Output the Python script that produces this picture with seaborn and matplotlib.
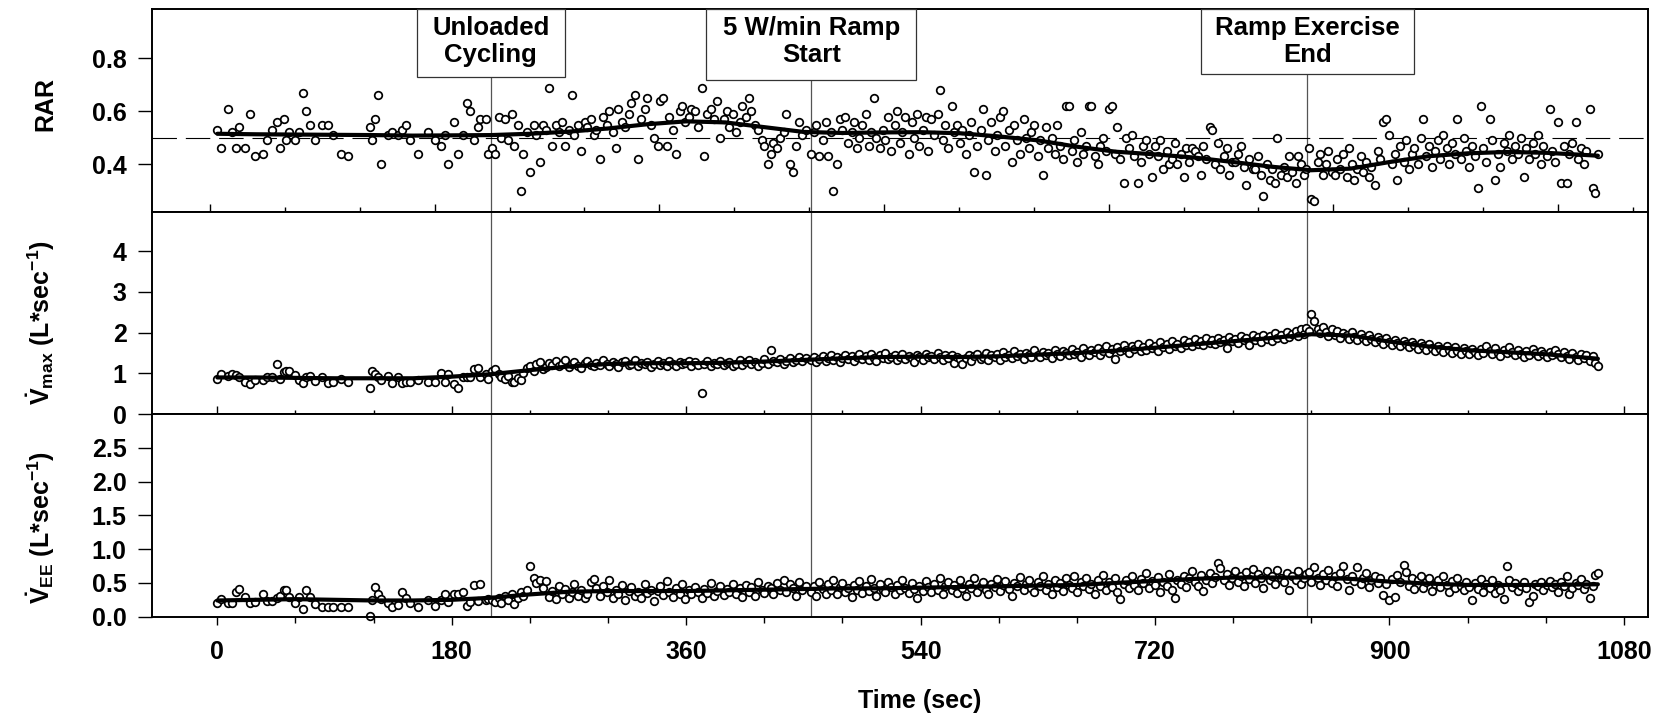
import numpy as np
import matplotlib
matplotlib.use("Agg")
import matplotlib.pyplot as plt
import matplotlib.transforms as mtransforms
from matplotlib.patches import Rectangle
from matplotlib.ticker import FixedLocator, FormatStrFormatter, MultipleLocator, NullFormatter
import seaborn as sns

# ---------------- data ----------------
# breath times (s), split by protocol phase
TIME_A = [0, 3, 8, 11, 14, 17, 21, 25, 29, 35, 38, 42, 46, 48, 51, 53, 55, 60, 63, 66,
          68, 71, 75, 80, 85, 89, 95, 100, 117, 119, 121, 123, 126, 131, 134, 139, 142, 145, 148, 154,
          162, 167, 172, 175, 177, 182, 185, 189, 192, 194, 197, 200, 202, 206, 208]
TIME_B = [211, 213, 216, 218, 221, 223, 226, 228, 231, 233, 235, 238, 240, 243, 245, 248, 250, 252, 255, 257,
          260, 262, 265, 267, 270, 272, 274, 277, 279, 282, 284, 287, 289, 291, 294, 296, 299, 301, 304, 306,
          308, 311, 313, 316, 318, 321, 323, 325, 328, 330, 333, 335, 338, 340, 342, 345, 347, 350, 352, 355,
          357, 359, 362, 364, 367, 369, 372, 374, 376, 379, 381, 384, 386, 389, 391, 393, 396, 398, 401, 403,
          406, 408, 410, 413, 415, 418, 420, 423, 425, 427, 430, 432, 435, 437, 440, 442, 444, 447, 449, 452]
TIME_C = [456, 458, 460, 462, 465, 467, 469, 471, 473, 476, 478, 480, 482, 484, 487, 489, 491, 493, 495, 498,
          500, 502, 504, 506, 509, 511, 513, 515, 517, 520, 522, 524, 526, 528, 531, 533, 535, 537, 539, 542,
          544, 546, 548, 550, 553, 555, 557, 559, 561, 564, 566, 568, 570, 572, 575, 577, 579, 581, 583, 586,
          588, 590, 592, 594, 597, 599, 601, 603, 605, 608, 610, 612, 614, 616, 619, 621, 623, 625, 627, 630,
          632, 634, 636, 638, 641, 643, 645, 647, 649, 652, 654, 656, 658, 660, 663, 665, 667, 669, 671, 674,
          676, 678, 680, 682, 685, 687, 689, 691, 693, 696, 698, 700, 702, 704, 707, 709, 711, 713, 715, 718,
          720, 722, 724, 726, 729, 731, 733, 735, 737, 740, 742, 744, 746, 748, 751, 753, 755, 757, 759, 762,
          764, 766, 768, 770, 773, 775, 777, 779, 781, 784, 786, 788, 790, 792, 795, 797, 799, 801, 803, 806,
          808, 810, 812, 814, 817, 819, 821, 823, 825, 828, 830, 832, 834, 836]
TIME_D = [838, 840, 842, 845, 847, 849, 851, 853, 856, 858, 860, 862, 864, 867, 869, 871, 873, 875, 878, 880,
          882, 884, 886, 889, 891, 893, 895, 897, 900, 902, 904, 906, 908, 911, 913, 915, 917, 919, 922, 924,
          926, 928, 930, 933, 935, 937, 939, 941, 944, 946, 948, 950, 952, 955, 957, 959, 961, 963, 966, 968,
          970, 972, 974, 977, 979, 981, 983, 985, 988, 990, 992, 994, 996, 999, 1001, 1003, 1005, 1007, 1010, 1012,
          1014, 1016, 1018, 1021, 1023, 1025, 1027, 1029, 1032, 1034, 1036, 1038, 1040, 1043, 1045, 1047, 1049, 1051, 1054, 1056,
          1058, 1060]

RAR_A = [0.53, 0.46, 0.61, 0.52, 0.46, 0.54, 0.46, 0.59, 0.43, 0.44, 0.49, 0.53, 0.56, 0.46, 0.57, 0.49, 0.52, 0.49, 0.52, 0.67,
         0.60, 0.55, 0.49, 0.55, 0.55, 0.51, 0.44, 0.43, 0.54, 0.49, 0.57, 0.66, 0.40, 0.51, 0.52, 0.51, 0.53, 0.55, 0.49, 0.44,
         0.52, 0.49, 0.47, 0.51, 0.40, 0.56, 0.44, 0.51, 0.63, 0.60, 0.49, 0.54, 0.57, 0.57, 0.44]
RAR_B = [0.46, 0.44, 0.58, 0.50, 0.57, 0.49, 0.59, 0.47, 0.55, 0.30, 0.44, 0.52, 0.37, 0.55, 0.51, 0.41, 0.55, 0.53, 0.69, 0.47,
         0.55, 0.52, 0.56, 0.47, 0.53, 0.66, 0.51, 0.55, 0.45, 0.56, 0.54, 0.57, 0.51, 0.53, 0.42, 0.58, 0.55, 0.60, 0.52, 0.46,
         0.61, 0.56, 0.54, 0.59, 0.63, 0.66, 0.42, 0.57, 0.61, 0.65, 0.55, 0.50, 0.47, 0.64, 0.65, 0.47, 0.58, 0.53, 0.44, 0.60,
         0.62, 0.56, 0.58, 0.61, 0.60, 0.54, 0.69, 0.43, 0.59, 0.61, 0.57, 0.64, 0.50, 0.57, 0.60, 0.54, 0.59, 0.52, 0.56, 0.62,
         0.58, 0.65, 0.60, 0.55, 0.53, 0.49, 0.47, 0.40, 0.44, 0.48, 0.46, 0.50, 0.52, 0.59, 0.40, 0.37, 0.47, 0.56, 0.51, 0.53]
RAR_C = [0.44, 0.52, 0.55, 0.43, 0.49, 0.56, 0.43, 0.52, 0.30, 0.40, 0.57, 0.53, 0.58, 0.48, 0.52, 0.56, 0.46, 0.50, 0.55, 0.59,
         0.47, 0.52, 0.65, 0.50, 0.46, 0.53, 0.49, 0.58, 0.45, 0.55, 0.60, 0.48, 0.52, 0.58, 0.44, 0.56, 0.50, 0.59, 0.47, 0.53,
         0.58, 0.45, 0.57, 0.51, 0.59, 0.68, 0.49, 0.55, 0.46, 0.62, 0.52, 0.55, 0.48, 0.53, 0.44, 0.51, 0.56, 0.37, 0.47, 0.53,
         0.61, 0.36, 0.49, 0.56, 0.45, 0.51, 0.58, 0.60, 0.47, 0.53, 0.41, 0.55, 0.49, 0.44, 0.57, 0.50, 0.46, 0.52, 0.55, 0.43,
         0.49, 0.36, 0.54, 0.46, 0.50, 0.44, 0.55, 0.47, 0.42, 0.62, 0.62, 0.45, 0.49, 0.41, 0.52, 0.44, 0.47, 0.62, 0.62, 0.43,
         0.40, 0.47, 0.50, 0.45, 0.61, 0.62, 0.44, 0.54, 0.42, 0.33, 0.50, 0.46, 0.51, 0.43, 0.33, 0.41, 0.47, 0.49, 0.44, 0.35,
         0.47, 0.43, 0.49, 0.38, 0.45, 0.40, 0.42, 0.48, 0.40, 0.44, 0.35, 0.46, 0.41, 0.46, 0.45, 0.43, 0.36, 0.47, 0.42, 0.54,
         0.53, 0.40, 0.48, 0.38, 0.43, 0.46, 0.36, 0.41, 0.41, 0.44, 0.47, 0.39, 0.32, 0.42, 0.38, 0.38, 0.43, 0.36, 0.28, 0.40,
         0.34, 0.38, 0.33, 0.50, 0.36, 0.39, 0.35, 0.43, 0.37, 0.33, 0.43, 0.40, 0.36, 0.38]
RAR_D = [0.46, 0.27, 0.26, 0.41, 0.44, 0.36, 0.40, 0.45, 0.37, 0.36, 0.42, 0.38, 0.44, 0.35, 0.46, 0.40, 0.34, 0.38, 0.43, 0.37,
         0.41, 0.35, 0.39, 0.32, 0.45, 0.42, 0.56, 0.57, 0.51, 0.40, 0.44, 0.34, 0.47, 0.41, 0.49, 0.38, 0.44, 0.46, 0.40, 0.50,
         0.57, 0.43, 0.47, 0.39, 0.45, 0.49, 0.42, 0.51, 0.46, 0.40, 0.48, 0.44, 0.57, 0.42, 0.50, 0.45, 0.39, 0.47, 0.43, 0.31,
         0.62, 0.46, 0.41, 0.57, 0.49, 0.34, 0.44, 0.39, 0.48, 0.45, 0.51, 0.42, 0.47, 0.44, 0.50, 0.35, 0.46, 0.42, 0.48, 0.44,
         0.51, 0.40, 0.47, 0.43, 0.61, 0.45, 0.41, 0.56, 0.33, 0.47, 0.33, 0.44, 0.48, 0.56, 0.42, 0.46, 0.40, 0.45, 0.61, 0.31,
         0.29, 0.44]

VMAX_A = [0.87, 0.98, 0.93, 0.99, 0.95, 0.92, 0.80, 0.74, 0.83, 0.83, 0.90, 0.90, 1.22, 0.86, 1.04, 1.06, 1.07, 0.95, 0.84, 0.77,
          0.90, 0.93, 0.82, 0.90, 0.77, 0.80, 0.85, 0.78, 0.63, 1.06, 0.99, 0.90, 0.84, 0.93, 0.77, 0.90, 0.77, 0.80, 0.79, 0.84,
          0.79, 0.80, 1.00, 0.79, 0.99, 0.74, 0.63, 0.90, 0.90, 0.92, 1.10, 1.12, 0.92, 0.99, 0.86]
VMAX_B = [1.05, 1.10, 0.98, 0.90, 0.86, 0.94, 0.80, 0.78, 0.88, 0.84, 1.00, 1.12, 1.18, 1.05, 1.22, 1.28, 1.10, 1.15, 1.25, 1.20,
          1.30, 1.18, 1.24, 1.32, 1.15, 1.22, 1.27, 1.19, 1.13, 1.25, 1.30, 1.21, 1.17, 1.26, 1.20, 1.32, 1.24, 1.18, 1.28, 1.22,
          1.15, 1.27, 1.31, 1.20, 1.24, 1.33, 1.18, 1.26, 1.22, 1.29, 1.16, 1.24, 1.30, 1.21, 1.26, 1.19, 1.31, 1.23, 1.17, 1.28,
          1.22, 1.25, 1.30, 1.19, 1.27, 1.21, 0.53, 1.24, 1.30, 1.18, 1.26, 1.22, 1.31, 1.20, 1.25, 1.29, 1.17, 1.24, 1.33, 1.21,
          1.27, 1.32, 1.22, 1.28, 1.19, 1.26, 1.35, 1.23, 1.58, 1.30, 1.27, 1.36, 1.24, 1.31, 1.38, 1.28, 1.34, 1.41, 1.30, 1.37]
VMAX_C = [1.32, 1.40, 1.28, 1.36, 1.43, 1.30, 1.38, 1.45, 1.33, 1.41, 1.29, 1.37, 1.46, 1.35, 1.42, 1.31, 1.39, 1.48, 1.36, 1.43,
          1.34, 1.47, 1.38, 1.30, 1.44, 1.37, 1.49, 1.35, 1.41, 1.46, 1.33, 1.40, 1.48, 1.36, 1.43, 1.38, 1.29, 1.45, 1.40, 1.34,
          1.47, 1.39, 1.42, 1.36, 1.50, 1.41, 1.33, 1.44, 1.38, 1.46, 1.26, 1.40, 1.35, 1.22, 1.37, 1.45, 1.31, 1.42, 1.48, 1.36,
          1.41, 1.50, 1.34, 1.44, 1.39, 1.47, 1.33, 1.52, 1.40, 1.45, 1.38, 1.55, 1.42, 1.48, 1.36, 1.51, 1.44, 1.40, 1.57, 1.46,
          1.39, 1.53, 1.45, 1.50, 1.37, 1.58, 1.47, 1.42, 1.55, 1.49, 1.44, 1.60, 1.48, 1.52, 1.41, 1.63, 1.50, 1.46, 1.58, 1.53,
          1.62, 1.45, 1.56, 1.67, 1.51, 1.59, 1.36, 1.64, 1.55, 1.70, 1.58, 1.49, 1.66, 1.60, 1.72, 1.54, 1.65, 1.58, 1.75, 1.62,
          1.68, 1.56, 1.77, 1.64, 1.71, 1.60, 1.79, 1.67, 1.73, 1.63, 1.82, 1.70, 1.76, 1.66, 1.84, 1.72, 1.79, 1.69, 1.86, 1.75,
          1.81, 1.71, 1.88, 1.77, 1.83, 1.62, 1.90, 1.79, 1.85, 1.74, 1.92, 1.81, 1.87, 1.70, 1.93, 1.83, 1.89, 1.78, 1.95, 1.85,
          1.91, 1.80, 1.98, 1.87, 1.93, 1.84, 2.02, 1.90, 1.96, 2.05, 1.92, 2.10, 1.97, 2.12]
VMAX_D = [2.05, 2.45, 2.28, 2.10, 1.98, 2.15, 2.02, 1.92, 2.08, 1.95, 2.04, 1.88, 2.00, 1.93, 1.85, 2.01, 1.90, 1.82, 1.96, 1.87,
          1.80, 1.93, 1.84, 1.76, 1.89, 1.81, 1.72, 1.86, 1.78, 1.70, 1.83, 1.75, 1.67, 1.80, 1.72, 1.64, 1.77, 1.69, 1.60, 1.74,
          1.66, 1.58, 1.71, 1.63, 1.55, 1.68, 1.60, 1.52, 1.66, 1.58, 1.50, 1.64, 1.56, 1.48, 1.62, 1.54, 1.47, 1.60, 1.52, 1.45,
          1.59, 1.51, 1.68, 1.55, 1.47, 1.62, 1.50, 1.43, 1.57, 1.49, 1.64, 1.52, 1.44, 1.58, 1.48, 1.40, 1.55, 1.46, 1.61, 1.50,
          1.42, 1.56, 1.47, 1.39, 1.53, 1.44, 1.58, 1.48, 1.40, 1.52, 1.43, 1.36, 1.50, 1.41, 1.33, 1.47, 1.38, 1.44, 1.30, 1.42,
          1.25, 1.18]

VEE_A = [0.21, 0.26, 0.21, 0.21, 0.37, 0.41, 0.29, 0.20, 0.22, 0.33, 0.23, 0.23, 0.28, 0.31, 0.39, 0.39, 0.29, 0.21, 0.29, 0.11,
         0.39, 0.29, 0.19, 0.14, 0.14, 0.15, 0.14, 0.15, 0.01, 0.24, 0.44, 0.33, 0.26, 0.21, 0.15, 0.17, 0.37, 0.27, 0.20, 0.15,
         0.24, 0.16, 0.25, 0.33, 0.22, 0.33, 0.34, 0.36, 0.16, 0.22, 0.47, 0.23, 0.48, 0.24, 0.26]
VEE_B = [0.24, 0.22, 0.27, 0.21, 0.30, 0.25, 0.33, 0.19, 0.28, 0.36, 0.30, 0.40, 0.75, 0.57, 0.50, 0.55, 0.42, 0.53, 0.29, 0.38,
         0.26, 0.45, 0.33, 0.41, 0.28, 0.36, 0.48, 0.31, 0.39, 0.27, 0.34, 0.52, 0.56, 0.42, 0.30, 0.45, 0.37, 0.55, 0.28, 0.40,
         0.33, 0.47, 0.25, 0.38, 0.44, 0.31, 0.36, 0.27, 0.49, 0.35, 0.40, 0.23, 0.38, 0.46, 0.32, 0.53, 0.36, 0.29, 0.42, 0.34,
         0.48, 0.26, 0.39, 0.33, 0.44, 0.37, 0.28, 0.41, 0.35, 0.50, 0.30, 0.38, 0.45, 0.32, 0.41, 0.36, 0.49, 0.34, 0.42, 0.29,
         0.47, 0.37, 0.44, 0.31, 0.52, 0.39, 0.35, 0.46, 0.42, 0.33, 0.50, 0.40, 0.55, 0.36, 0.48, 0.43, 0.31, 0.52, 0.39, 0.45]
VEE_C = [0.37, 0.45, 0.30, 0.52, 0.41, 0.34, 0.48, 0.39, 0.55, 0.33, 0.44, 0.50, 0.36, 0.42, 0.29, 0.47, 0.40, 0.53, 0.35, 0.45,
         0.38, 0.56, 0.43, 0.31, 0.49, 0.40, 0.36, 0.52, 0.44, 0.33, 0.47, 0.39, 0.55, 0.42, 0.35, 0.50, 0.41, 0.28, 0.46, 0.38,
         0.53, 0.44, 0.36, 0.49, 0.40, 0.57, 0.33, 0.45, 0.51, 0.39, 0.47, 0.35, 0.54, 0.42, 0.30, 0.48, 0.43, 0.58, 0.37, 0.46,
         0.52, 0.40, 0.34, 0.49, 0.44, 0.56, 0.38, 0.47, 0.53, 0.41, 0.31, 0.50, 0.45, 0.59, 0.39, 0.48, 0.54, 0.42, 0.36, 0.51,
         0.46, 0.60, 0.40, 0.49, 0.33, 0.55, 0.44, 0.50, 0.38, 0.57, 0.47, 0.42, 0.61, 0.36, 0.52, 0.45, 0.58, 0.41, 0.49, 0.34,
         0.55, 0.46, 0.62, 0.40, 0.51, 0.44, 0.57, 0.37, 0.26, 0.48, 0.54, 0.43, 0.60, 0.47, 0.39, 0.56, 0.50, 0.64, 0.42, 0.53,
         0.47, 0.59, 0.36, 0.51, 0.45, 0.63, 0.40, 0.28, 0.55, 0.49, 0.61, 0.44, 0.57, 0.67, 0.52, 0.46, 0.62, 0.38, 0.55, 0.64,
         0.50, 0.59, 0.79, 0.72, 0.54, 0.63, 0.47, 0.58, 0.68, 0.52, 0.61, 0.45, 0.66, 0.56, 0.70, 0.50, 0.63, 0.57, 0.42, 0.67,
         0.55, 0.61, 0.48, 0.69, 0.58, 0.52, 0.65, 0.40, 0.60, 0.54, 0.67, 0.49, 0.58, 0.63]
VEE_D = [0.66, 0.52, 0.74, 0.58, 0.47, 0.63, 0.55, 0.69, 0.50, 0.60, 0.45, 0.65, 0.75, 0.56, 0.39, 0.61, 0.53, 0.73, 0.48, 0.58,
         0.64, 0.44, 0.55, 0.60, 0.50, 0.57, 0.32, 0.48, 0.25, 0.56, 0.29, 0.62, 0.52, 0.77, 0.66, 0.46, 0.57, 0.41, 0.54, 0.60,
         0.43, 0.51, 0.58, 0.38, 0.49, 0.55, 0.44, 0.61, 0.47, 0.36, 0.53, 0.42, 0.57, 0.46, 0.39, 0.52, 0.44, 0.25, 0.50, 0.41,
         0.56, 0.37, 0.48, 0.43, 0.54, 0.35, 0.47, 0.40, 0.26, 0.75, 0.55, 0.44, 0.50, 0.38, 0.46, 0.52, 0.42, 0.22, 0.30, 0.49,
         0.45, 0.51, 0.40, 0.47, 0.53, 0.44, 0.49, 0.36, 0.52, 0.46, 0.60, 0.34, 0.43, 0.50, 0.47, 0.56, 0.41, 0.48, 0.28, 0.45,
         0.62, 0.64]

# smoothed trend curves
TREND_T = [0, 30, 60, 90, 120, 150, 180, 210, 240, 270, 300, 330, 360, 390, 420, 450, 480, 510,
           540, 570, 600, 630, 660, 690, 720, 750, 780, 810, 840, 870, 900, 930, 960, 990, 1020, 1060]
TREND_RAR = [0.515, 0.513, 0.512, 0.511, 0.510, 0.508, 0.509, 0.510, 0.515, 0.523, 0.535, 0.551, 0.562, 0.558, 0.540, 0.522, 0.518, 0.520,
             0.521, 0.517, 0.505, 0.490, 0.466, 0.447, 0.437, 0.425, 0.408, 0.390, 0.377, 0.383, 0.408, 0.430, 0.441, 0.446, 0.443, 0.432]
TREND_VMAX = [0.90, 0.90, 0.89, 0.88, 0.88, 0.88, 0.92, 0.98, 1.08, 1.17, 1.23, 1.25, 1.25, 1.26, 1.29, 1.33, 1.37, 1.40,
              1.41, 1.40, 1.42, 1.46, 1.50, 1.56, 1.63, 1.71, 1.79, 1.87, 1.96, 1.93, 1.78, 1.66, 1.57, 1.52, 1.47, 1.36]
TREND_VEE = [0.24, 0.25, 0.26, 0.25, 0.24, 0.24, 0.25, 0.28, 0.33, 0.37, 0.38, 0.38, 0.38, 0.39, 0.40, 0.41, 0.42, 0.42,
             0.43, 0.44, 0.45, 0.46, 0.47, 0.50, 0.53, 0.56, 0.58, 0.58, 0.58, 0.56, 0.52, 0.49, 0.47, 0.47, 0.47, 0.48]

EVENT_T = [210, 456, 837]
EVENT_LABELS = ["Unloaded\nCycling", "5 W/min Ramp\nStart", "Ramp Exercise\nEnd"]

X_TICKS = [0, 180, 360, 540, 720, 900, 1080]
YLABELS = ["RAR", r"$\dot{V}_{max}$ (L*sec$^{-1}$)", r"$\dot{V}_{EE}$ (L*sec$^{-1}$)"]

# ---------------- assemble ----------------
time = np.array(TIME_A + TIME_B + TIME_C + TIME_D, dtype=float)
rar = np.array(RAR_A + RAR_B + RAR_C + RAR_D)
vmax = np.array(VMAX_A + VMAX_B + VMAX_C + VMAX_D)
vee = np.array(VEE_A + VEE_B + VEE_C + VEE_D)
n = min(len(time), len(rar), len(vmax), len(vee))

# ---------------- style ----------------
sns.set_style("white")
plt.rcParams.update({
    "font.family": ["Liberation Sans", "DejaVu Sans"],
    "font.weight": "bold",
    "axes.labelweight": "bold",
    "mathtext.fontset": "custom",
    "mathtext.rm": "Liberation Sans:bold",
    "mathtext.bf": "Liberation Sans:bold",
    "mathtext.it": "Liberation Sans:bold",
    "mathtext.sf": "Liberation Sans:bold",
    "mathtext.default": "bf",
    "text.color": "black",
    "axes.labelcolor": "black",
    "axes.edgecolor": "black",
    "xtick.color": "black",
    "ytick.color": "black",
})

FS_TICK = 18
FS_LAB = 18
FS_BOX = 18.5
fig = plt.figure(figsize=(16.63, 7.17), dpi=100)
axes = fig.subplots(3, 1, gridspec_kw=dict(hspace=0))
fig.subplots_adjust(left=0.0912, right=0.991, top=0.9874, bottom=0.1399)

series = [(rar, TREND_RAR), (vmax, TREND_VMAX), (vee, TREND_VEE)]
ylims = [(0.2205, 0.987), (0, 4.97), (0, 3.0)]
yticks = [[0.4, 0.6, 0.8], [0, 1, 2, 3, 4], [0, 0.5, 1.0, 1.5, 2.0, 2.5]]
yfmt = ["%.1f", "%d", "%.1f"]
ylab_y = [0.53, 0.45, 0.44]

for i, ax in enumerate(axes):
    vals, trend = series[i]
    for et in EVENT_T:
        ax.axvline(et, color="#555555", lw=0.9, zorder=1)
    sns.scatterplot(x=time[:n], y=vals[:n], ax=ax, marker="o", s=30, color="white",
                    edgecolor="black", linewidth=1.25, zorder=2, clip_on=False, legend=False)
    sns.lineplot(x=TREND_T, y=trend, ax=ax, color="black", lw=3.0, zorder=3, legend=False)
    ax.set_xlim(-50.4, 1098.5)
    ax.set_ylim(*ylims[i])
    ax.yaxis.set_major_locator(FixedLocator(yticks[i]))
    ax.yaxis.set_major_formatter(FormatStrFormatter(yfmt[i]))
    ax.tick_params(axis="y", which="major", direction="out", length=10, width=1.0,
                   pad=8, labelsize=FS_TICK, left=True, right=False)
    ax.tick_params(axis="x", which="both", top=False, bottom=True)
    for sp in ax.spines.values():
        sp.set_linewidth(1.4)
        sp.set_color("black")
    ax.set_ylabel(YLABELS[i], fontsize=FS_LAB, fontweight="bold")
    ax.yaxis.set_label_coords(-0.063, ylab_y[i])
    ax.set_xlabel("")

# top panel: its own bottom-axis tick spacing
top_minor = np.arange(-5.6, 1098, 57.5)
axes[0].xaxis.set_major_locator(FixedLocator(top_minor[::3]))
axes[0].xaxis.set_minor_locator(FixedLocator(top_minor))
axes[0].xaxis.set_major_formatter(NullFormatter())
axes[0].tick_params(axis="x", which="major", direction="inout", length=11, width=1.0, labelbottom=False)
axes[0].tick_params(axis="x", which="minor", direction="inout", length=6.5, width=1.0)

for ax in axes[1:]:
    ax.xaxis.set_major_locator(FixedLocator(X_TICKS))
    ax.xaxis.set_minor_locator(MultipleLocator(60))

axes[1].tick_params(axis="x", which="major", direction="inout", length=11, width=1.0, labelbottom=False)
axes[1].tick_params(axis="x", which="minor", direction="inout", length=6, width=1.0)
axes[2].tick_params(axis="x", which="major", direction="out", length=6, width=1.0, pad=11, labelsize=FS_TICK)
axes[2].tick_params(axis="x", which="minor", direction="out", length=4, width=1.0)
axes[2].xaxis.set_major_formatter(FormatStrFormatter("%d"))
axes[2].set_xlabel("Time (sec)", fontsize=FS_LAB, fontweight="bold")
axes[2].xaxis.set_label_coords(0.5135, -0.355)

# reference line RAR = 0.5
axes[0].axhline(0.5, color="black", lw=0.8, ls=(0, (22, 8)), zorder=1.5)

# event annotation boxes
trans = mtransforms.blended_transform_factory(axes[0].transData, axes[0].transAxes)
half_w = [57, 80.6, 82]
box_bottom = [0.662, 0.652, 0.678]
for et, lab, hw, yb in zip(EVENT_T, EVENT_LABELS, half_w, box_bottom):
    axes[0].add_patch(Rectangle((et - hw, yb), 2 * hw, 1 - yb, transform=trans,
                                facecolor="white", edgecolor="#333333", lw=0.9,
                                zorder=4, clip_on=False))
    axes[0].text(et, 0.84, lab, transform=trans, ha="center", va="center",
                 fontsize=FS_BOX, fontweight="bold", linespacing=1.15, zorder=5)

fig.savefig("out.png", dpi=100)
